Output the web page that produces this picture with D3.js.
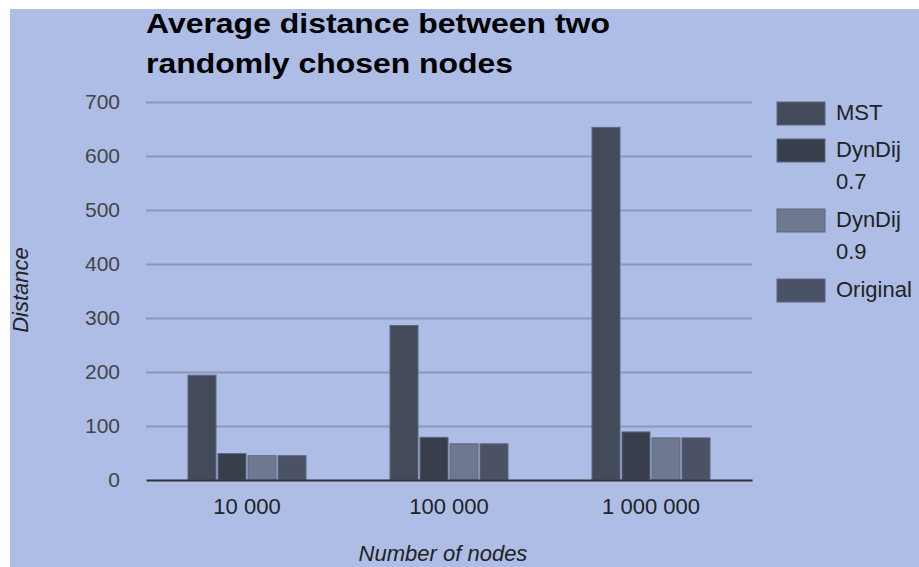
<!DOCTYPE html>
<html>
<head>
<meta charset="utf-8">
<script src="https://cdn.jsdelivr.net/npm/d3@7/dist/d3.min.js"></script>
<style>
  html, body { margin: 0; padding: 0; background: #ffffff; }
  svg { display: block; }
</style>
</head>
<body>
<svg id="chart" width="919" height="567"></svg>
<script>
// ---- data ----
const categories = ["10 000", "100 000", "1 000 000"];
const seriesNames = ["MST", "DynDij 0.7", "DynDij 0.9", "Original"];
const legendLabels = [["MST"], ["DynDij", "0.7"], ["DynDij", "0.9"], ["Original"]];
const mstValues = [194, 286, 653];
const dynDij07Values = [49, 79, 89];
const dynDij09Values = [45, 67, 78];
const originalValues = [45, 67, 78];
const yTicks = [0, 100, 200, 300, 400, 500, 600, 700];
const seriesColors = ["#434a5a", "#393e4d", "#6e7891", "#4b5266"];
const titleLines = ["Average distance between two", "randomly chosen nodes"];

const seriesValues = [mstValues, dynDij07Values, dynDij09Values, originalValues];

const svg = d3.select("#chart");
const W = 919, H = 567;

// background panel
svg.append("rect").attr("x", 10).attr("y", 9).attr("width", W - 10).attr("height", H - 9)
  .attr("fill", "#adbde6");

const plot = { left: 146, right: 752, top: 102, bottom: 480 };

const x0 = d3.scaleBand().domain(categories).range([plot.left, plot.right]).padding(0);
const x1 = d3.scaleBand().domain(seriesNames).range([0, 118]).paddingInner(2 / 30).paddingOuter(0);
const y = d3.scaleLinear().domain([0, 700]).range([plot.bottom, plot.top]);

// gridlines
const yAxis = d3.axisLeft(y).tickValues(yTicks).tickSize(-(plot.right - plot.left)).tickPadding(26)
  .tickFormat(d3.format("d"));
const gy = svg.append("g").attr("transform", `translate(${plot.left},0)`).call(yAxis);
gy.select(".domain").remove();
gy.selectAll(".tick line").attr("stroke", "#8c98ba").attr("stroke-width", 2)
  .filter(d => d === 0).remove();
gy.selectAll(".tick text").attr("fill", "#444").attr("font-family", "Liberation Sans, Arial, sans-serif")
  .attr("font-size", 21);

// bars
const groups = svg.append("g").selectAll("g").data(categories).join("g")
  .attr("transform", c => `translate(${x0(c) + x0.bandwidth() / 2 - 59},0)`);
groups.selectAll("rect")
  .data((c, ci) => seriesNames.map((s, si) => ({ s, si, v: seriesValues[si][ci] })))
  .join("rect")
  .attr("x", d => x1(d.s))
  .attr("y", d => y(d.v))
  .attr("width", x1.bandwidth())
  .attr("height", d => y(0) - y(d.v))
  .attr("fill", d => seriesColors[d.si])
  .attr("stroke", "#5d667e").attr("stroke-width", 1);

// x axis
const xAxis = d3.axisBottom(x0).tickSize(0).tickPadding(18);
const gx = svg.append("g").attr("transform", `translate(0,${plot.bottom})`).call(xAxis);
gx.select(".domain").attr("stroke", "#333").attr("stroke-width", 2);
gx.selectAll(".tick text").attr("fill", "#222").attr("font-family", "Liberation Sans, Arial, sans-serif")
  .attr("font-size", 22);

// axis titles
svg.append("text").attr("x", (plot.left + plot.right) / 2 - 6).attr("y", 561)
  .attr("text-anchor", "middle").attr("font-family", "Liberation Sans, Arial, sans-serif")
  .attr("font-style", "italic").attr("font-size", 22).attr("fill", "#222").text("Number of nodes");
svg.append("text").attr("transform", "translate(28,290) rotate(-90)")
  .attr("text-anchor", "middle").attr("font-family", "Liberation Sans, Arial, sans-serif")
  .attr("font-style", "italic").attr("font-size", 22).attr("fill", "#222").text("Distance");

// title
const titleWidths = [464, 367];
titleLines.forEach((t, i) => {
  svg.append("text").attr("x", 146).attr("y", 33 + i * 40)
    .attr("font-family", "Liberation Sans, Arial, sans-serif").attr("font-weight", "bold")
    .attr("font-size", 28).attr("fill", "#000")
    .attr("textLength", titleWidths[i]).attr("lengthAdjust", "spacingAndGlyphs")
    .text(t);
});

// legend
const legendTops = [102, 139, 209, 279];
const lg = svg.append("g");
legendLabels.forEach((lines, i) => {
  lg.append("rect").attr("x", 777).attr("y", legendTops[i]).attr("width", 48).attr("height", 23)
    .attr("fill", seriesColors[i]).attr("stroke", "#5d667e").attr("stroke-width", 1);
  lines.forEach((ln, j) => {
    lg.append("text").attr("x", 836).attr("y", legendTops[i] + 18 + j * 32)
      .attr("font-family", "Liberation Sans, Arial, sans-serif").attr("font-size", 22)
      .attr("fill", "#222").text(ln);
  });
});
</script>
</body>
</html>
